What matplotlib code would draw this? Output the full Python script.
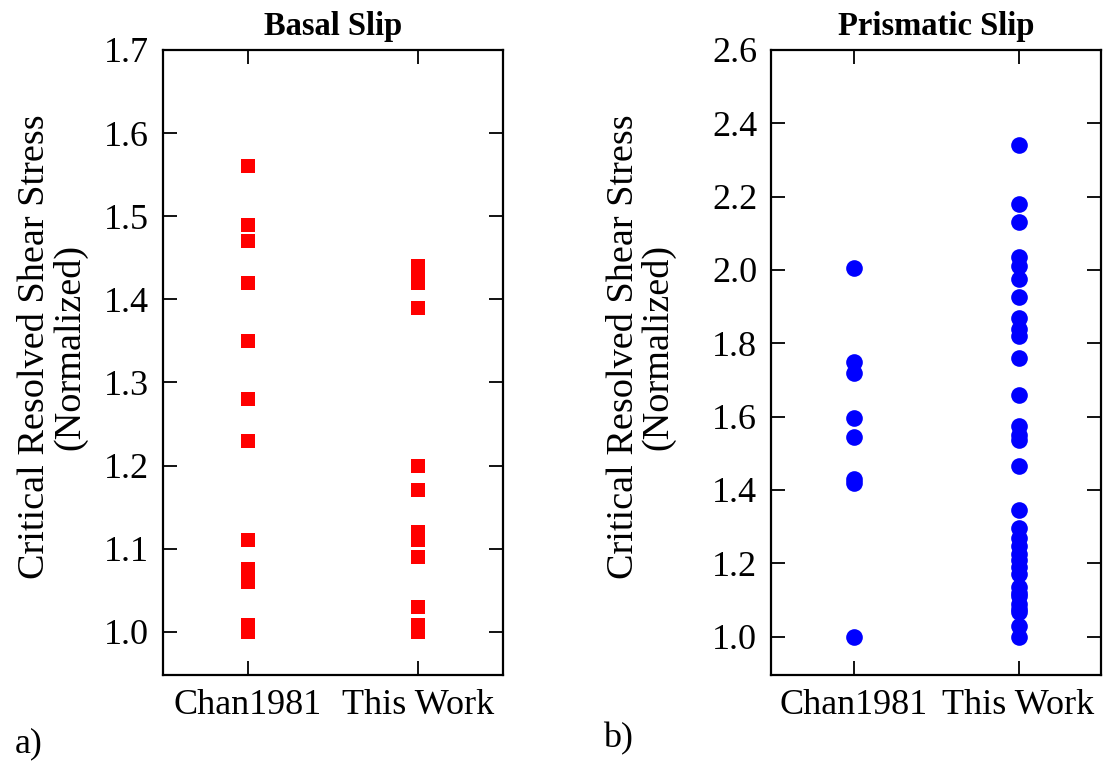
"""Critical resolved shear stress comparison: basal and prismatic slip."""

import matplotlib
matplotlib.use("Agg")
import matplotlib.pyplot as plt

plt.rcParams["font.family"] = ["Liberation Serif", "DejaVu Serif"]

categories = ["Chan1981", "This Work"]

basal_chan = [1.56, 1.49, 1.47, 1.42, 1.35, 1.28, 1.23, 1.11, 1.075, 1.068, 1.06,
              1.008, 1.0]
basal_this = [1.44, 1.43, 1.42, 1.39, 1.20, 1.17, 1.12, 1.11, 1.09, 1.03,
              1.008, 1.0]

prism_chan = [2.005, 1.75, 1.72, 1.595, 1.545, 1.43, 1.42, 1.0]
prism_this = [2.34, 2.18, 2.13, 2.035, 2.01, 1.975, 1.925, 1.87, 1.84, 1.82,
              1.76, 1.66, 1.575, 1.55, 1.535, 1.465, 1.345, 1.297, 1.27, 1.247,
              1.225, 1.21, 1.19, 1.17, 1.134, 1.12, 1.11, 1.09, 1.075, 1.066,
              1.03, 1.0]

basal_ticks = [1.0, 1.1, 1.2, 1.3, 1.4, 1.5, 1.6, 1.7]
prism_ticks = [1.0, 1.2, 1.4, 1.6, 1.8, 2.0, 2.2, 2.4, 2.6]

YLABEL = "Critical Resolved Shear Stress\n(Normalized)"

fig = plt.figure(figsize=(11.11, 7.61), dpi=100)
ax1 = fig.add_axes([0.1467, 0.113, 0.306, 0.8213])
ax2 = fig.add_axes([0.694, 0.113, 0.297, 0.8213])


def style(ax, title, ticks, ylim, labelpad):
    ax.set_xlim(-0.5, 1.5)
    ax.set_ylim(*ylim)
    ax.set_xticks([0, 1])
    ax.set_xticklabels(categories)
    ax.set_yticks(ticks)
    ax.set_yticklabels([f"{t:.1f}" for t in ticks])
    ax.tick_params(direction="in", top=True, right=True, length=10, width=1.3,
                   labelsize=26, pad=10)
    for s in ax.spines.values():
        s.set_linewidth(1.6)
    ax.set_title(title, fontsize=23.5, fontweight="bold", pad=11)
    ax.set_ylabel(YLABEL, fontsize=27.5, linespacing=1.0, labelpad=labelpad)
    # label sits a little above the axes centre in the original
    ax.yaxis.label.set_y(0.525)


ax1.plot([0] * len(basal_chan), basal_chan, "s", color="red", ms=9.5, mew=0)
ax1.plot([1] * len(basal_this), basal_this, "s", color="red", ms=9.5, mew=0)
style(ax1, "Basal Slip", basal_ticks, (0.948, 1.7), 12)

ax2.plot([0] * len(prism_chan), prism_chan, "o", color="blue", ms=12, mew=0)
ax2.plot([1] * len(prism_this), prism_this, "o", color="blue", ms=12, mew=0)
style(ax2, "Prismatic Slip", prism_ticks, (0.895, 2.6), 26)

fig.text(0.013, 0.012, "a)", fontsize=26)
fig.text(0.543, 0.018, "b)", fontsize=26)

fig.savefig("out.png", dpi=100)
